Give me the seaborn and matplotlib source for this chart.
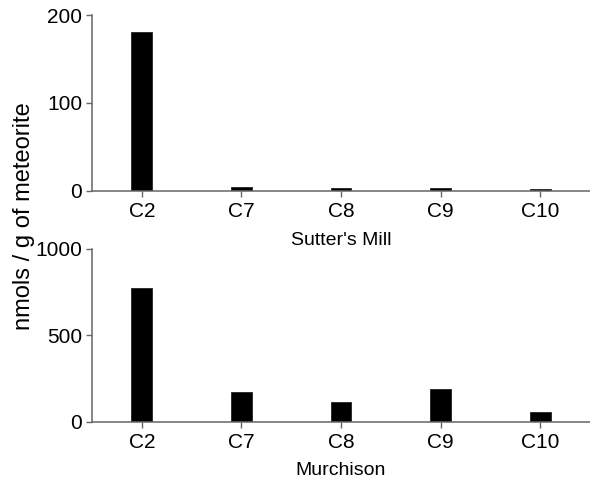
import matplotlib
matplotlib.use("Agg")
import matplotlib.pyplot as plt
import seaborn as sns
import pandas as pd

categories = ["C2", "C7", "C8", "C9", "C10"]
sutters_mill = [181, 4, 3, 3, 1.5]
murchison = [776, 174, 116, 189, 56]
panel_titles = ["Sutter's Mill", "Murchison"]
y_ticks_top = [0, 100, 200]
y_ticks_bottom = [0, 500, 1000]
ylabel = "nmols / g of meteorite"

sns.set_theme(style="white")
plt.rcParams['font.family'] = ['Liberation Sans', 'DejaVu Sans']

fig = plt.figure(figsize=(5.9, 4.84), dpi=100)
ax1 = fig.add_axes([0.156, 0.606, 0.844, 0.363])
ax2 = fig.add_axes([0.156, 0.1287, 0.844, 0.357])

spine_col = "#666666"
for ax, vals, title, yt, ly in [(ax1, sutters_mill, panel_titles[0], y_ticks_top, -0.281),
                                (ax2, murchison, panel_titles[1], y_ticks_bottom, -0.280)]:
    df = pd.DataFrame({"cat": categories, "val": vals})
    sns.barplot(data=df, x="cat", y="val", ax=ax, color="black", width=0.21,
                edgecolor="#222222", linewidth=0.6, saturation=1)
    ax.set_xlim(-0.5, 4.5)
    ax.set_ylim(0, yt[-1])
    ax.set_yticks(yt)
    ax.set_ylabel("")
    ax.set_xlabel(title, fontsize=14, color="black")
    ax.xaxis.set_label_coords(0.5, ly)
    ax.xaxis.label.set_va("center")
    for s in ["top", "right"]:
        ax.spines[s].set_visible(False)
    for s in ["left", "bottom"]:
        ax.spines[s].set_color(spine_col)
        ax.spines[s].set_linewidth(1.1)
    ax.tick_params(axis="both", which="major", direction="out", length=4, width=1.0,
                   color=spine_col, labelsize=15, labelcolor="black", left=True, bottom=True)
    ax.tick_params(axis="x", pad=4)
    ax.tick_params(axis="y", pad=3)
    ax.patch.set_alpha(0)

fig.text(0.0407, 1 - 216 / 484, ylabel, rotation=90, ha="center", va="center",
         fontsize=17, color="black")

fig.savefig("out.png", dpi=100)
